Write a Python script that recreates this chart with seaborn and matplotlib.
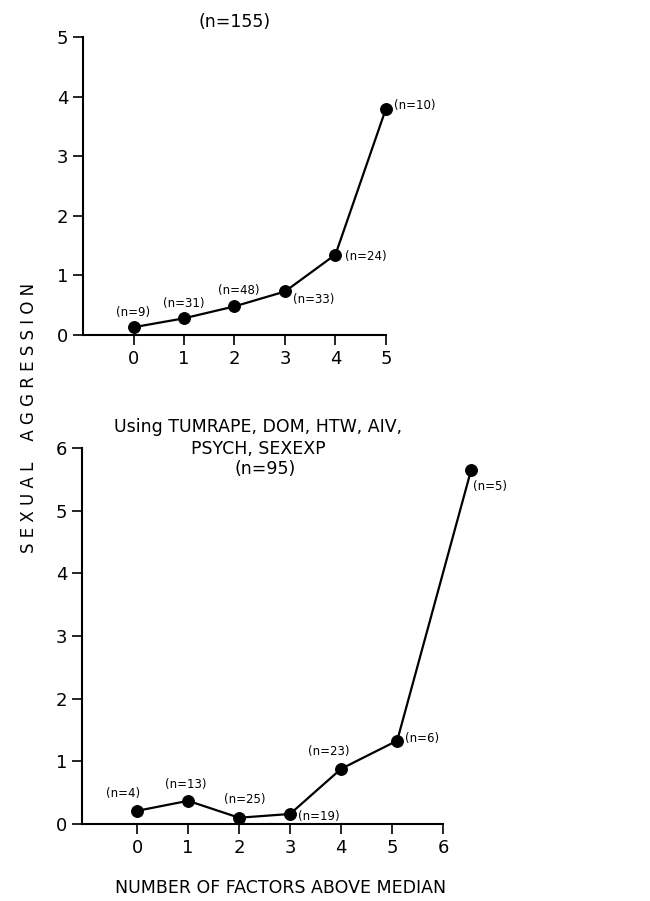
import matplotlib
matplotlib.use('Agg')
import matplotlib.pyplot as plt
import pandas as pd
import seaborn as sns

# top panel: all factors (n=155)
top_factors = [0, 1, 2, 3, 4, 5]
top_aggression = [0.13, 0.28, 0.48, 0.73, 1.35, 3.80]
top_n = ['(n=9)', '(n=31)', '(n=48)', '(n=33)', '(n=24)', '(n=10)']

# bottom panel: TUMRAPE, DOM, HTW, AIV, PSYCH, SEXEXP (n=95)
bottom_factors = [0, 1, 2, 3, 4, 5.1, 6.55]
bottom_aggression = [0.21, 0.37, 0.10, 0.16, 0.88, 1.33, 5.65]
bottom_n = ['(n=4)', '(n=13)', '(n=25)', '(n=19)', '(n=23)', '(n=6)', '(n=5)']

# label offsets in pixels (dx, dy, ha)
top_offsets = [(0, 15, 'center'), (0, 15, 'center'), (4, 16, 'center'),
               (8, -8, 'left'), (10, -2, 'left'), (8, 3, 'left')]
bottom_offsets = [(-14, 17, 'center'), (-2, 16, 'center'), (6, 18, 'center'),
                  (8, -3, 'left'), (-12, 17, 'center'), (8, 2, 'left'),
                  (2, -17, 'left')]

sns.set_style('ticks')
plt.rcParams['font.family'] = ['DejaVu Sans']
plt.rcParams['text.color'] = 'black'
plt.rcParams['xtick.color'] = 'black'
plt.rcParams['ytick.color'] = 'black'
plt.rcParams['axes.labelcolor'] = 'black'

W, H = 650, 901
fig = plt.figure(figsize=(6.5, 9.01), dpi=100)


def make_axes(left, right, top, bottom):
    return fig.add_axes([left / W, 1 - bottom / H, (right - left) / W,
                         (bottom - top) / H])


def draw_panel(ax, x, y, labels, offsets):
    df = pd.DataFrame({'factors': x, 'aggression': y})
    sns.lineplot(data=df, x='factors', y='aggression', ax=ax, color='black',
                 linewidth=1.6, marker='o', markersize=8.5,
                 markeredgecolor='black', clip_on=False)
    for xi, yi, lab, (dx, dy, ha) in zip(x, y, labels, offsets):
        ax.annotate(lab, (xi, yi), xytext=(dx, dy),
                    textcoords='offset pixels', ha=ha, va='center',
                    fontsize=8.5)
    sns.despine(ax=ax)
    ax.set_xlabel('')
    ax.set_ylabel('')
    ax.tick_params(direction='out', length=7, width=1.2, labelsize=13)
    for s in ['left', 'bottom']:
        ax.spines[s].set_linewidth(1.5)
        ax.spines[s].set_color('black')


# top chart
ax1 = make_axes(83, 386, 37, 335)
draw_panel(ax1, top_factors, top_aggression, top_n, top_offsets)
ax1.set_xlim(-1, 5)
ax1.set_ylim(0, 5)
ax1.set_xticks(range(0, 6))
ax1.set_yticks(range(0, 6))
ax1.set_title('(n=155)', fontsize=12.5, pad=7)

# bottom chart
unit = (443 - 137) / 6
ax2 = make_axes(82, 82 + (6.7 + 1.08) * unit, 448, 824)
draw_panel(ax2, bottom_factors, bottom_aggression, bottom_n, bottom_offsets)
ax2.set_xlim(-1.08, 6.7)
ax2.set_ylim(0, 6)
ax2.spines['bottom'].set_bounds(-1.08, 6)
ax2.set_xticks(range(0, 7))
ax2.set_yticks(range(0, 7))
ax2.set_xlabel('NUMBER OF FACTORS ABOVE MEDIAN', fontsize=12.5, labelpad=16)

fig.text(258 / W, 1 - 438 / H, 'Using TUMRAPE, DOM, HTW, AIV,\nPSYCH, SEXEXP',
         ha='center', va='center', fontsize=12.5, linespacing=1.3)
fig.text(265 / W, 1 - 469 / H, '(n=95)', ha='center', va='center',
         fontsize=12.5)
fig.text(29 / W, 1 - 418 / H, 'S E X U A L    A G G R E S S I O N',
         rotation=90, ha='center', va='center', fontsize=12)

fig.savefig('out.png', dpi=100, facecolor='white')
